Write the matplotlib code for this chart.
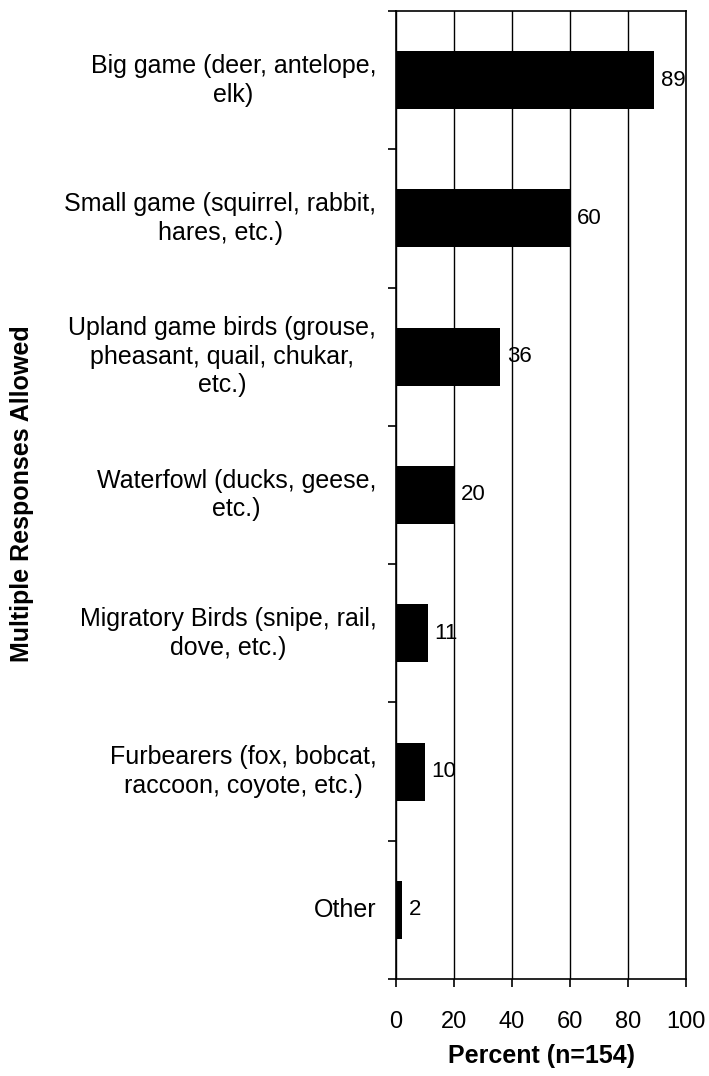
import matplotlib.pyplot as plt

plt.rcParams['font.family'] = ['Liberation Sans', 'DejaVu Sans']

categories = [
    "Big game (deer, antelope,\nelk)",
    "Small game (squirrel, rabbit,\nhares, etc.)",
    "Upland game birds (grouse,\npheasant, quail, chukar,\netc.)",
    "Waterfowl (ducks, geese,\netc.)",
    "Migratory Birds (snipe, rail,\ndove, etc.)",
    "Furbearers (fox, bobcat,\nraccoon, coyote, etc.)",
    "Other",
]
values = [89, 60, 36, 20, 11, 10, 2]
xticks = [0, 20, 40, 60, 80, 100]

fig = plt.figure(figsize=(7.09, 10.76), dpi=100)
ax = fig.add_axes([396/709, 1 - 979/1076, 290/709, 968/1076])

n = len(values)
pos = list(range(n))[::-1]
ax.barh(pos, values, height=0.42, color='black', zorder=3)
for p, v in zip(pos, values):
    ax.text(v + 2.3, p, str(v), va='center', ha='left', fontsize=16, zorder=4)

ax.set_xlim(0, 100)
ax.set_ylim(-0.5, n - 0.5)
ax.set_xticks(xticks)
ax.set_xticklabels([str(t) for t in xticks], fontsize=17)
ax.xaxis.grid(True, color='black', linewidth=1)
ax.set_axisbelow(True)
ax.tick_params(axis='x', direction='out', length=6, width=1.2, pad=17)

# y ticks sit between categories, labels centered on bars
ax.set_yticks([i + 0.5 for i in range(-1, n)])
ax.set_yticklabels([])
ax.tick_params(axis='y', direction='out', length=6, width=1.2)
for p, c in zip(pos, categories):
    ax.text(-6.8, p, c, ha='right', va='center', multialignment='center',
            fontsize=18, linespacing=1.25)

for s in ax.spines.values():
    s.set_linewidth(1.2)

fig.text(541/709, 1 - 1056/1076, "Percent (n=154)", ha='center', va='center',
         fontsize=18, fontweight='bold')
fig.text(22/709, 1 - 494/1076, "Multiple Responses Allowed", rotation=90,
         ha='center', va='center', fontsize=18, fontweight='bold')

fig.savefig("out.png", dpi=100)
